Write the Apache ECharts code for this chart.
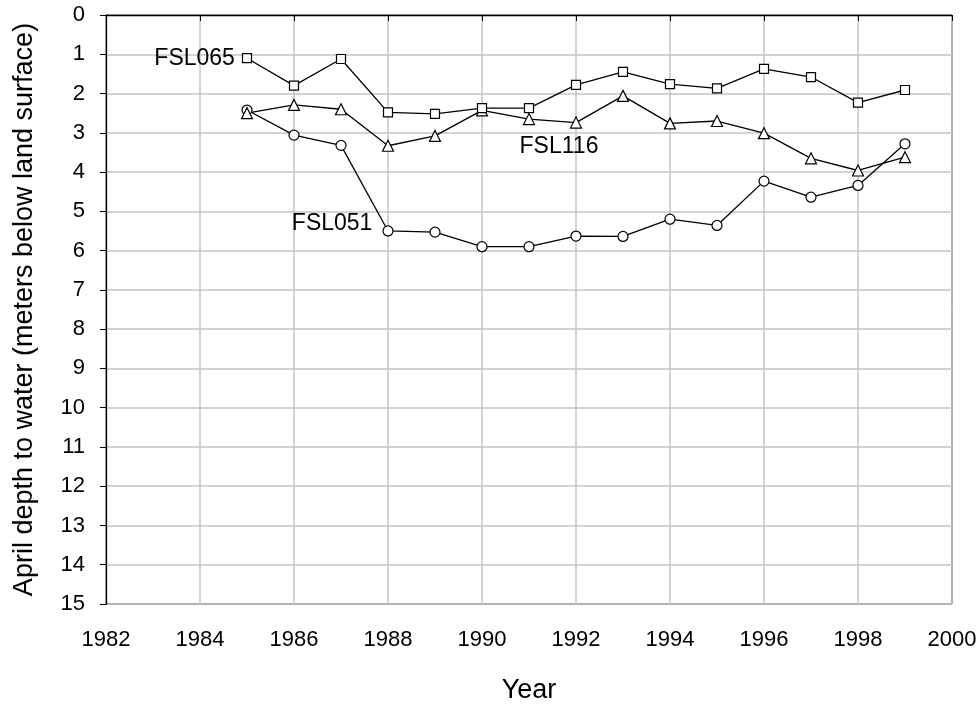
<!DOCTYPE html>
<html>
<head>
<meta charset="utf-8">
<script src="https://cdn.jsdelivr.net/npm/echarts@6/dist/echarts.min.js"></script>
<style>
html, body { margin: 0; padding: 0; background: #fff; }
#chart { width: 979px; height: 704px; }
</style>
</head>
<body>
<div id="chart"></div>
<script>
// years sampled, 1985-1999
var years = [1985, 1986, 1987, 1988, 1989, 1990, 1991, 1992, 1993, 1994, 1995, 1996, 1997, 1998, 1999];
// april depth to water, meters below land surface
var fsl065 = [1.10, 1.80, 1.12, 2.48, 2.52, 2.37, 2.37, 1.78, 1.45, 1.76, 1.87, 1.37, 1.58, 2.23, 1.91];
var fsl116 = [2.50, 2.29, 2.40, 3.33, 3.08, 2.43, 2.65, 2.74, 2.06, 2.76, 2.70, 3.01, 3.65, 3.96, 3.62];
var fsl051 = [2.42, 3.06, 3.32, 5.50, 5.53, 5.90, 5.90, 5.63, 5.64, 5.20, 5.36, 4.23, 4.64, 4.34, 3.28];

var font = 'Arial, "Liberation Sans", sans-serif';

// one point of each series carries the well name
function makeData(vals, name, idx, labelOpt) {
    return vals.map(function (v, i) {
        if (i === idx) {
            return {
                value: [years[i], v],
                label: Object.assign({
                    show: true,
                    formatter: name,
                    color: '#000',
                    fontFamily: font,
                    fontSize: 23
                }, labelOpt)
            };
        }
        return [years[i], v];
    });
}

function lineSeries(name, vals, symbol, size, idx, labelOpt) {
    return {
        name: name,
        type: 'line',
        symbol: symbol,
        symbolSize: size,
        showAllSymbol: true,
        animation: false,
        lineStyle: { color: '#000', width: 1.3 },
        itemStyle: { color: '#fff', borderColor: '#000', borderWidth: 1.2 },
        emphasis: { disabled: true },
        data: makeData(vals, name, idx, labelOpt)
    };
}

var myChart = echarts.init(document.getElementById('chart'));

var option = {
    backgroundColor: '#fff',
    textStyle: { fontFamily: font },
    grid: {
        left: 106, right: 27, top: 15, bottom: 100,
        outerBoundsMode: 'none',
        show: true, borderColor: '#000', borderWidth: 1
    },
    xAxis: {
        type: 'value',
        min: 1982, max: 2000, interval: 2,
        name: 'Year',
        nameLocation: 'middle',
        nameGap: 73,
        nameTextStyle: { color: '#000', fontSize: 27, fontFamily: font },
        axisLine: { lineStyle: { color: '#000', width: 1.3 } },
        axisTick: { show: true, length: 6, lineStyle: { color: '#000' } },
        axisLabel: {
            color: '#000', fontSize: 22, margin: 25, fontFamily: font,
            formatter: function (v) { return String(v); }
        },
        splitLine: { show: true, lineStyle: { color: '#c4c4c4', width: 1.5 } }
    },
    yAxis: {
        type: 'value',
        inverse: true,
        min: 0, max: 15, interval: 1,
        name: 'April depth to water (meters below land surface)',
        nameLocation: 'middle',
        nameGap: 68,
        nameTextStyle: { color: '#000', fontSize: 27, fontFamily: font },
        axisLine: { lineStyle: { color: '#000', width: 1.3 } },
        axisTick: { show: true, length: 6, lineStyle: { color: '#000' } },
        axisLabel: { color: '#000', fontSize: 22, margin: 21, fontFamily: font },
        splitLine: { show: true, lineStyle: { color: '#c4c4c4', width: 1.5 } }
    },
    series: [
        lineSeries('FSL051', fsl051, 'circle', 10, 3, { position: 'left', distance: 10, offset: [0, -7] }),
        lineSeries('FSL116', fsl116, 'triangle', 11, 7, { position: 'bottom', distance: 5, offset: [-17, 1] }),
        lineSeries('FSL065', fsl065, 'rect', 9, 0, { position: 'left', distance: 7 })
    ]
};

myChart.setOption(option);
</script>
</body>
</html>
